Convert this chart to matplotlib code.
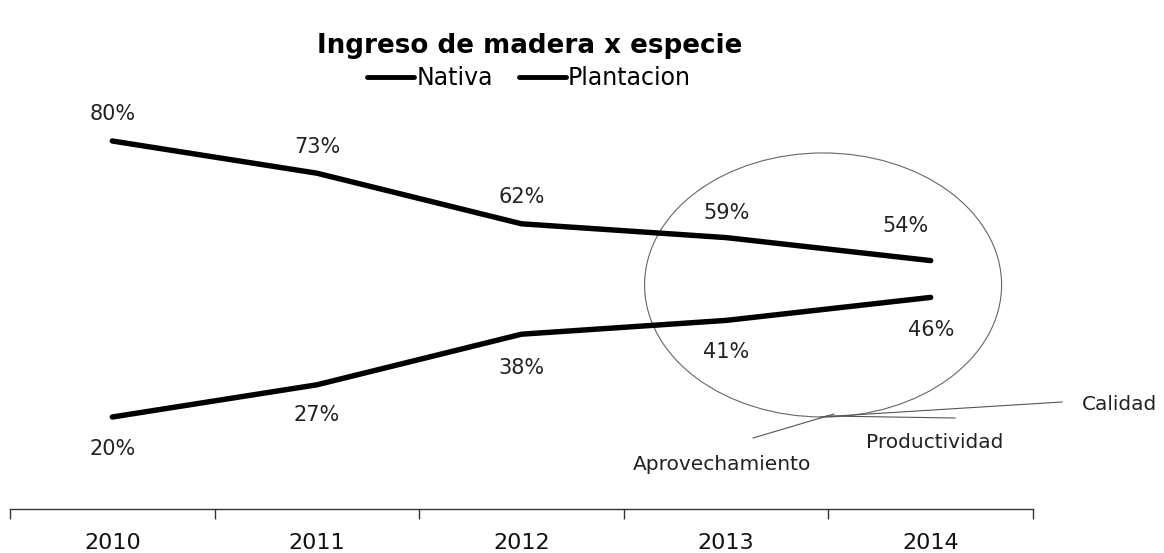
import matplotlib
matplotlib.use("Agg")
import matplotlib.pyplot as plt
from matplotlib.patches import Ellipse
from matplotlib.lines import Line2D

years = ["2010", "2011", "2012", "2013", "2014"]
nativa = [80, 73, 62, 59, 54]
plantacion = [20, 27, 38, 41, 46]
series_names = ["Nativa", "Plantacion"]
title = "Ingreso de madera x especie"
callouts = ["Calidad", "Productividad", "Aprovechamiento"]

plt.rcParams['font.family'] = ['DejaVu Sans']

W, H = 1164, 553
fig = plt.figure(figsize=(W / 100, H / 100), dpi=100)
fig.patch.set_facecolor("white")

def fx(px):
    return px / W

def fy(py):
    return 1 - py / H

PT = 0.72  # points per pixel at 100 dpi

ax = fig.add_axes([fx(10), fy(509), fx(1033) - fx(10), fy(49) - fy(509)])
x = list(range(len(years)))
ax.plot(x, nativa, color="black", lw=3.9, solid_capstyle="round", label=series_names[0])
ax.plot(x, plantacion, color="black", lw=3.9, solid_capstyle="round", label=series_names[1])
ax.set_xlim(-0.5, len(years) - 0.5)
ax.set_ylim(0, 100)

# label offsets in pixels (dx, dy), screen-up positive
nat_off = [(0, 27), (0, 26), (0, 27), (0, 25), (-25, 35)]
pla_off = [(0, -32), (0, -30), (0, -34), (0, -32), (0, -33)]
for xi, v, (dx, dy) in zip(x, nativa, nat_off):
    ax.annotate(f"{v}%", (xi, v), xytext=(dx * PT, dy * PT), textcoords="offset points",
                ha="center", va="center", fontsize=15, color="#222222")
for xi, v, (dx, dy) in zip(x, plantacion, pla_off):
    ax.annotate(f"{v}%", (xi, v), xytext=(dx * PT, dy * PT), textcoords="offset points",
                ha="center", va="center", fontsize=15, color="#222222")

for s in ["top", "right", "left"]:
    ax.spines[s].set_visible(False)
ax.spines["bottom"].set_color("#333333")
ax.spines["bottom"].set_linewidth(1.0)
ax.set_yticks([])
ax.set_xticks(x)
ax.set_xticklabels(years, fontsize=16, color="#111111")
ax.tick_params(axis="x", length=0, pad=17)
ax.set_xticks([i - 0.5 for i in range(len(years) + 1)], minor=True)
ax.tick_params(axis="x", which="minor", length=7, color="#333333", width=1)

# highlight ellipse
ell = Ellipse((3.474, 48.7), 1.745, 57.4, fill=False, edgecolor="#666666", lw=0.8)
ax.add_patch(ell)

# callout lines (figure pixel coords)
def line(p1, p2):
    fig.add_artist(Line2D([fx(p1[0]), fx(p2[0])], [fy(p1[1]), fy(p2[1])],
                          color="#555555", lw=0.8))

line((820, 417), (1062, 402))
line((826, 416), (955, 418))
line((753, 438), (834, 414))
fig.text(fx(1082), fy(405), callouts[0], fontsize=14.5, va="center", ha="left", color="#222222")
fig.text(fx(866), fy(443), callouts[1], fontsize=14.5, va="center", ha="left", color="#222222")
fig.text(fx(633), fy(464), callouts[2], fontsize=14.5, va="center", ha="left", color="#222222")

fig.text(fx(530), fy(46), title, fontsize=18.8, fontweight="bold", ha="center", va="center")
leg = fig.legend(loc="center", bbox_to_anchor=(fx(529), fy(78)), ncol=2, frameon=False,
                 fontsize=17, handlelength=2.0, handletextpad=0.08, columnspacing=1.1)
for h in leg.get_lines():
    h.set_linewidth(3.5)

fig.savefig("out.png", dpi=100, facecolor="white")
